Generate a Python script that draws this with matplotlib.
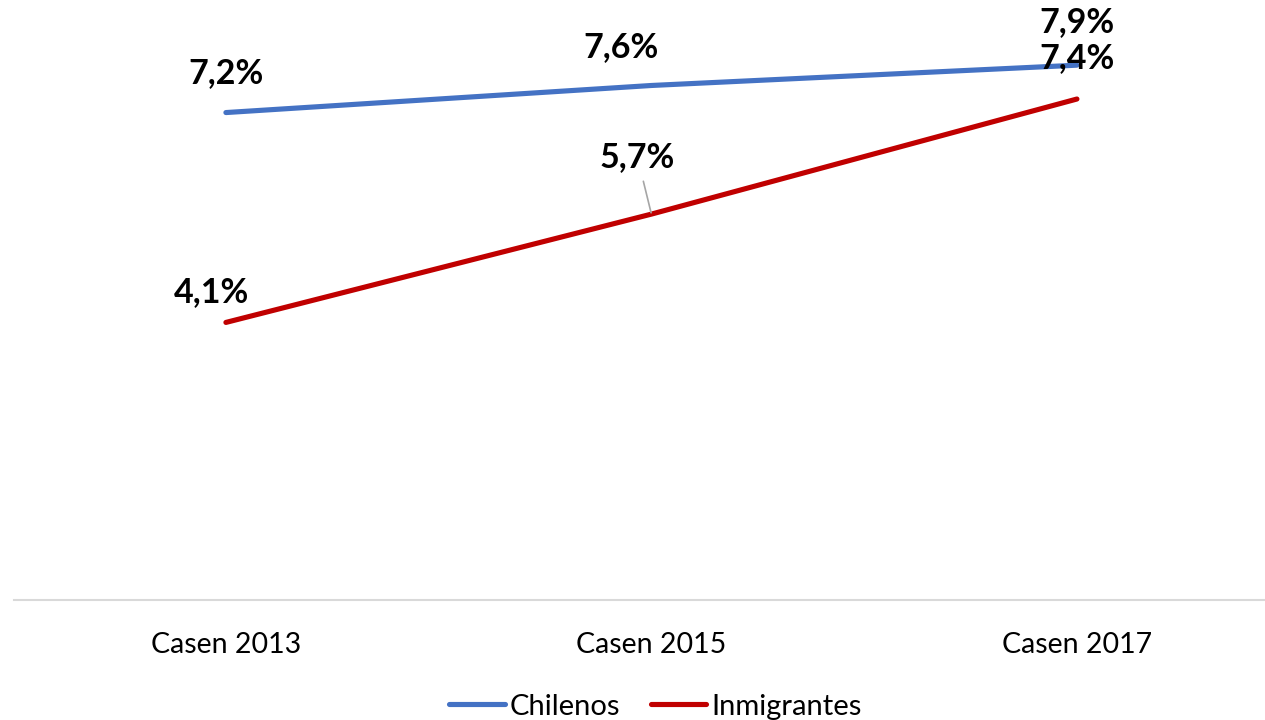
import numpy as np
from matplotlib import pyplot as plt

plt.rcParams['font.family'] = ['Lato', 'DejaVu Sans']

categories = ["Casen 2013", "Casen 2015", "Casen 2017"]
chilenos = [7.2, 7.6, 7.9]
inmigrantes = [4.1, 5.7, 7.4]
chilenos_lbl = ["7,2%", "7,6%", "7,9%"]
inmigrantes_lbl = ["4,1%", "5,7%", "7,4%"]

# label offsets in pixels (dx, dy up)
off_chi = [(0, 40), (-30, 38), (0, 43)]
off_inm = [(-14, 30), (-14, 57), (0, 41)]

fig = plt.figure(figsize=(12.65, 7.2), dpi=100)
ax = fig.add_axes([14 / 1265, 1 - 600 / 720, 1 - 14 / 1265, 600 / 720])

x = np.arange(len(categories))
ax.plot(x, chilenos, color="#4472C4", lw=3.7, solid_capstyle="round", label="Chilenos")
ax.plot(x, inmigrantes, color="#C00000", lw=3.7, solid_capstyle="round", label="Inmigrantes")

px = 72 / 100  # pixel -> points
for xi, v, t, (dx, dy) in zip(x, chilenos, chilenos_lbl, off_chi):
    ax.annotate(t, (xi, v), xytext=(dx * px, dy * px), textcoords="offset points",
                ha="center", va="center", fontsize=24.5, fontweight="bold")
for i, (xi, v, t, (dx, dy)) in enumerate(zip(x, inmigrantes, inmigrantes_lbl, off_inm)):
    if i == 1:
        ax.annotate(t, (xi, v), xytext=(dx * px, dy * px), textcoords="offset points",
                    ha="center", va="center", fontsize=24.5, fontweight="bold",
                    arrowprops=dict(arrowstyle="-", color="#A6A6A6", lw=1.2,
                                    shrinkA=4, shrinkB=1))
    else:
        ax.annotate(t, (xi, v), xytext=(dx * px, dy * px), textcoords="offset points",
                    ha="center", va="center", fontsize=24.5, fontweight="bold")

ax.set_xlim(-0.498, 2.442)
ax.set_ylim(0, 600 / 67.7)
ax.set_xticks(x)
ax.set_xticklabels(categories, fontsize=20.5)
ax.tick_params(axis="x", length=0, pad=23)
ax.set_yticks([])
for s in ["top", "right", "left"]:
    ax.spines[s].set_visible(False)
ax.spines["bottom"].set_color("#D9D9D9")
ax.spines["bottom"].set_linewidth(1.5)

fig.legend(loc="lower center", bbox_to_anchor=(0.518, -0.036), ncol=2, frameon=False,
           fontsize=21, handlelength=1.9, handletextpad=0.17, columnspacing=1.05)

fig.savefig("out.png", dpi=100)
